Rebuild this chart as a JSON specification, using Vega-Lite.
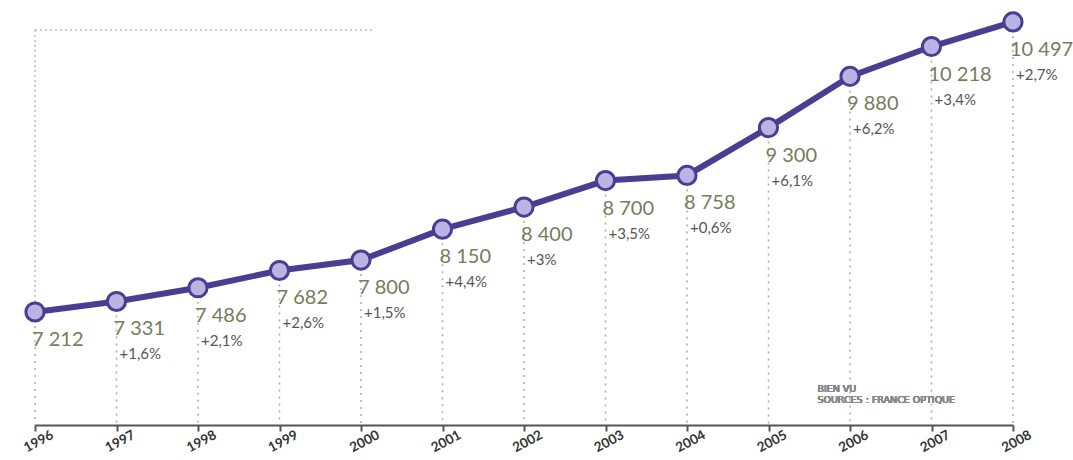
{
  "$schema": "https://vega.github.io/schema/vega-lite/v6.json",
  "autosize": "none",
  "width": 978,
  "height": 425,
  "padding": {"left": 35, "right": 60, "top": 0, "bottom": 35},
  "background": "white",
  "config": {"view": {"stroke": null}, "font": "Lato"},
  "data": {"values": [
    {"year": 1996, "value": 7212, "label": "7 212", "pct": ""},
    {"year": 1997, "value": 7331, "label": "7 331", "pct": "+1,6%"},
    {"year": 1998, "value": 7486, "label": "7 486", "pct": "+2,1%"},
    {"year": 1999, "value": 7682, "label": "7 682", "pct": "+2,6%"},
    {"year": 2000, "value": 7800, "label": "7 800", "pct": "+1,5%"},
    {"year": 2001, "value": 8150, "label": "8 150", "pct": "+4,4%"},
    {"year": 2002, "value": 8400, "label": "8 400", "pct": "+3%"},
    {"year": 2003, "value": 8700, "label": "8 700", "pct": "+3,5%"},
    {"year": 2004, "value": 8758, "label": "8 758", "pct": "+0,6%"},
    {"year": 2005, "value": 9300, "label": "9 300", "pct": "+6,1%"},
    {"year": 2006, "value": 9880, "label": "9 880", "pct": "+6,2%"},
    {"year": 2007, "value": 10218, "label": "10 218", "pct": "+3,4%"},
    {"year": 2008, "value": 10497, "label": "10 497", "pct": "+2,7%"}
  ]},
  "encoding": {
    "x": {"field": "year", "type": "quantitative",
      "scale": {"domain": [1996, 2008], "nice": false, "zero": false},
      "axis": {"title": null, "values": [1996,1997,1998,1999,2000,2001,2002,2003,2004,2005,2006,2007,2008],
        "format": "d", "grid": false, "domainColor": "#555", "domainWidth": 2, "tickColor": "#555", "tickWidth": 2, "tickSize": 6,
        "labelAngle": -28, "labelAlign": "center", "labelBaseline": "top", "labelPadding": 4,
        "labelFontSize": 13.5, "labelFontWeight": "bold", "labelColor": "#333", "labelFont": "Lato"}},
    "y": {"field": "value", "type": "quantitative",
      "scale": {"domain": [5932, 10745], "nice": false, "zero": false},
      "axis": null}
  },
  "layer": [
    {"mark": {"type": "rule", "color": "#aaa", "strokeWidth": 1.5, "strokeDash": [2, 5]},
     "encoding": {"y2": {"datum": 5932}}},
    {"mark": {"type": "rule", "color": "#ccc", "strokeWidth": 1.5, "strokeDash": [2, 3]},
     "encoding": {"x": {"datum": 1996}, "y": {"datum": 7212}, "y2": {"datum": 10406}}},
    {"mark": {"type": "rule", "color": "#ccc", "strokeWidth": 1.5, "strokeDash": [2, 3]},
     "encoding": {"x": {"datum": 1996}, "x2": {"datum": 2000.15}, "y": {"datum": 10406}}},
    {"mark": {"type": "line", "color": "#4b3d91", "strokeWidth": 6}},
    {"mark": {"type": "point", "filled": true, "fill": "#b9b5e3", "stroke": "#4b3d91", "strokeWidth": 3, "size": 330, "opacity": 1}},
    {"mark": {"type": "text", "align": "left", "baseline": "middle", "dx": -3, "dy": 28, "fontSize": 20, "fontWeight": "normal", "color": "#737d5c", "font": "Lato"},
     "encoding": {"text": {"field": "label"}}},
    {"mark": {"type": "text", "align": "left", "baseline": "middle", "dx": 3, "dy": 53, "fontSize": 15, "fontWeight": "normal", "color": "#555", "font": "Lato"},
     "encoding": {"text": {"field": "pct"}}},
    {"mark": {"type": "text", "align": "left", "baseline": "top", "fontSize": 9.5, "fontWeight": "normal", "color": "#888", "lineHeight": 11, "font": "DejaVu Sans"},
     "encoding": {"x": {"datum": 2005.6}, "y": {"datum": 6400}, "text": {"value": ["BIEN VU", "SOURCES : FRANCE OPTIQUE"]}}}
  ]
}
